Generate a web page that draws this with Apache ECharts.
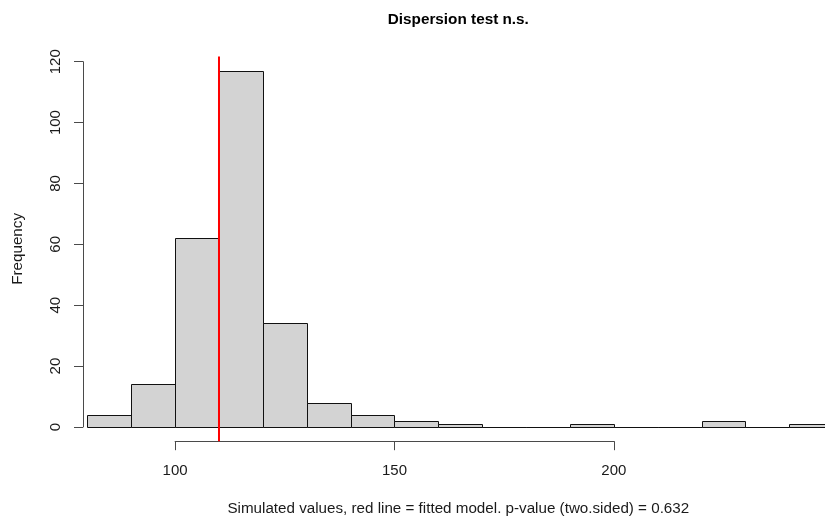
<!DOCTYPE html>
<html>
<head>
<meta charset="utf-8">
<title>Dispersion test n.s.</title>
<script src="https://cdn.jsdelivr.net/npm/echarts@6/dist/echarts.min.js"></script>
<style>
  html, body { margin: 0; padding: 0; background: #ffffff; }
  #chart { width: 825px; height: 518px; }
</style>
</head>
<body>
<div id="chart"></div>
<script>
// Histogram of simulated dispersion statistics (bins of width 10)
const binEdges = [80, 90, 100, 110, 120, 130, 140, 150, 160, 170, 180, 190, 200, 210, 220, 230, 240, 250];
const counts   = [4, 14, 62, 117, 34, 8, 4, 2, 1, 0, 0, 1, 0, 0, 2, 0, 1];
// Dispersion statistic of the fitted model (red line)
const observed = 110;
// Axis ticks
const xTicks = [100, 150, 200];
const yTicks = [0, 20, 40, 60, 80, 100, 120];

const titleText = 'Dispersion test n.s.';
const xLabelText = 'Simulated values, red line = fitted model. p-value (two.sided) = 0.632';
const yLabelText = 'Frequency';

// Plot region in data units (R-style 4% padding) and in pixels
const X_MIN = 79, X_MAX = 250.1;
const Y_MIN = -4.68, Y_MAX = 121.68;
const PLOT = { left: 83, top: 56.6, width: 750.6, height: 384.6 };
const pxX = PLOT.width / (X_MAX - X_MIN);
const pxY = PLOT.height / (Y_MAX - Y_MIN);
const plotBottom = PLOT.top + PLOT.height;

const FONT = '"Liberation Sans", Arial, Helvetica, sans-serif';
const AXIS_COLOR = '#4a4a4a';
const TEXT_COLOR = '#1a1a1a';

const xAxisStart = xTicks[0], xAxisEnd = xTicks[xTicks.length - 1];
const yAxisStart = yTicks[0], yAxisEnd = yTicks[yTicks.length - 1];

const bins = counts.map((c, i) => [binEdges[i], binEdges[i + 1], c]);

const chart = echarts.init(document.getElementById('chart'), null, { renderer: 'canvas' });

const option = {
  animation: false,
  backgroundColor: '#ffffff',
  grid: [
    // main plotting region
    { left: PLOT.left, top: PLOT.top, width: PLOT.width, height: PLOT.height,
      containLabel: false, outerBoundsMode: 'none' },
    // y axis spanning only the tick range
    { left: PLOT.left, top: PLOT.top + (Y_MAX - yAxisEnd) * pxY,
      width: 1, height: (yAxisEnd - yAxisStart) * pxY,
      containLabel: false, outerBoundsMode: 'none' },
    // x axis spanning only the tick range, drawn at the plot bottom
    { left: PLOT.left + (xAxisStart - X_MIN) * pxX, top: plotBottom - 1,
      width: (xAxisEnd - xAxisStart) * pxX, height: 1,
      containLabel: false, outerBoundsMode: 'none' }
  ],
  xAxis: [
    { gridIndex: 0, type: 'value', min: X_MIN, max: X_MAX, show: false },
    { gridIndex: 1, type: 'value', min: 0, max: 1, show: false },
    { gridIndex: 2, type: 'value', min: xAxisStart, max: xAxisEnd, interval: 50,
      position: 'bottom',
      axisLine: { show: true, onZero: false, lineStyle: { color: AXIS_COLOR, width: 1 } },
      axisTick: { show: true, length: 9, lineStyle: { color: AXIS_COLOR, width: 1 } },
      axisLabel: { show: true, margin: 22, color: TEXT_COLOR, fontSize: 15, fontFamily: FONT },
      splitLine: { show: false } }
  ],
  yAxis: [
    { gridIndex: 0, type: 'value', min: Y_MIN, max: Y_MAX, show: false },
    { gridIndex: 1, type: 'value', min: yAxisStart, max: yAxisEnd, interval: 20,
      position: 'left',
      axisLine: { show: true, onZero: false, lineStyle: { color: AXIS_COLOR, width: 1 } },
      axisTick: { show: true, length: 9, lineStyle: { color: AXIS_COLOR, width: 1 } },
      axisLabel: { show: true, rotate: 90, margin: 19.5, color: TEXT_COLOR, fontSize: 15, fontFamily: FONT },
      splitLine: { show: false } },
    { gridIndex: 2, type: 'value', min: 0, max: 1, show: false }
  ],
  series: [
    {
      type: 'custom',
      xAxisIndex: 0,
      yAxisIndex: 0,
      clip: true,
      data: bins,
      encode: { x: [0, 1], y: 2 },
      renderItem: function (params, api) {
        const p0 = api.coord([api.value(0), 0]);
        const p1 = api.coord([api.value(1), api.value(2)]);
        const x0 = Math.round(p0[0]) + 0.5;
        const x1 = Math.round(p1[0]) + 0.5;
        const yb = Math.round(p0[1]) + 0.5;
        const yt = Math.round(p1[1]) + 0.5;
        return {
          type: 'rect',
          shape: { x: x0, y: yt, width: x1 - x0, height: yb - yt },
          style: { fill: '#d3d3d3', stroke: '#111111', lineWidth: 1 }
        };
      },
      z: 2
    },
    {
      type: 'line',
      xAxisIndex: 0,
      yAxisIndex: 0,
      data: [[observed, Y_MIN], [observed, Y_MAX]],
      symbol: 'none',
      lineStyle: { color: '#ff0000', width: 2 },
      z: 5
    }
  ],
  graphic: [
    { type: 'text', x: PLOT.left + PLOT.width / 2, y: 19.5,
      style: { text: titleText, font: 'bold 15.3px ' + FONT, fill: '#000000',
               align: 'center', verticalAlign: 'middle' } },
    { type: 'text', x: PLOT.left + PLOT.width / 2, y: 509,
      style: { text: xLabelText, font: '15.2px ' + FONT, fill: TEXT_COLOR,
               align: 'center', verticalAlign: 'middle' } },
    { type: 'text', x: 18, y: PLOT.top + PLOT.height / 2, rotation: Math.PI / 2,
      style: { text: yLabelText, font: '15.2px ' + FONT, fill: TEXT_COLOR,
               align: 'center', verticalAlign: 'middle' } }
  ]
};

chart.setOption(option);
</script>
</body>
</html>
